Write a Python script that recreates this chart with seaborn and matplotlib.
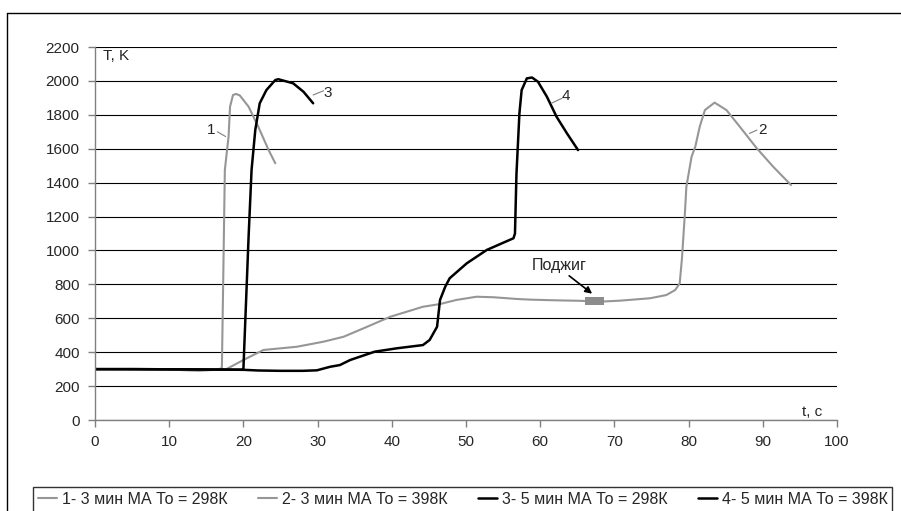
import numpy as np
import pandas as pd
import matplotlib
matplotlib.use("Agg")
import matplotlib.pyplot as plt
import matplotlib.lines as mlines
import seaborn as sns

# ---- data ----
t1 = [0, 5, 10, 14, 16.5, 17.1, 17.3, 17.5, 18.0, 18.2, 18.6, 19.0, 19.5, 20.7, 22.0, 23.4, 24.3]
T1 = [300, 299, 297, 292, 296, 307, 885, 1475, 1671, 1848, 1917, 1923, 1915, 1848, 1730, 1592, 1514]

t2 = [0, 5, 10, 14, 17.7, 20.0, 22.7, 27.2, 30.8, 33.5, 36.2, 39.8, 44.2, 46.5, 48.7, 51.4,
      53.7, 56.8, 58.6, 62.0, 65.4, 68.1, 70.8, 74.8, 77.0, 78.2, 78.8, 79.1, 79.5, 79.7,
      80.4, 80.9, 81.5, 82.2, 83.5, 85.1, 86.9, 89.2, 91.4, 93.8]
T2 = [300, 299, 297, 292, 300, 354, 413, 432, 462, 491, 541, 609, 668, 684, 708, 727,
      724, 714, 710, 706, 703, 698, 704, 718, 737, 767, 806, 950, 1219, 1376,
      1553, 1612, 1730, 1828, 1872, 1828, 1730, 1602, 1494, 1386]

t3 = [0, 5, 10, 15, 19.9, 20.0, 20.7, 21.1, 21.6, 22.2, 23.1, 24.3, 24.7, 26.7, 28.1, 29.4]
T3 = [300, 300, 299, 298, 297, 300, 1081, 1475, 1710, 1868, 1946, 2005, 2010, 1986, 1936, 1868]

t4 = [0, 5, 10, 15, 20, 22, 25, 28, 29.9, 31.7, 33, 34.4, 37.7, 40.7, 44.2, 45.1, 46.1,
      46.5, 47.2, 47.8, 50.1, 52.8, 56.4, 56.6, 56.8, 57.2, 57.5, 58.2, 58.9, 59.7, 60.9,
      62.2, 63.6, 65.1]
T4 = [300, 300, 299, 298, 296, 292, 290, 290, 293, 314, 324, 354, 403, 423, 442, 472, 550,
      708, 786, 836, 924, 1003, 1072, 1100, 1450, 1809, 1946, 2015, 2020, 1995, 1907,
      1789, 1691, 1592]

ignition_t = [66.6, 67.3, 68.0]
ignition_T = [702, 703, 700]

labels = ["1- 3 мин МА То = 298К", "2- 3 мин МА То = 398К",
          "3- 5 мин МА То = 298К", "4- 5 мин МА То = 398К"]
curve_ids = ["1", "2", "3", "4"]

x_ticks = list(range(0, 101, 10))
y_ticks = list(range(0, 2201, 200))

# ---- plotting ----
sns.set_theme(style="white")
plt.rcParams['font.family'] = ['Liberation Sans', 'DejaVu Sans']

GRAY = "#969696"
BLACK = "#000000"
colors = [GRAY, GRAY, BLACK, BLACK]
widths = [1.5, 1.5, 1.8, 1.8]

fig = plt.figure(figsize=(9.01, 5.11), dpi=100)
ax = fig.add_axes([95/901, 1-420/511, (837-95)/901, (420-47)/511])

series = [(t1, T1), (t2, T2), (t3, T3), (t4, T4)]
for (tt, TT), lab, c, w in zip(series, labels, colors, widths):
    df = pd.DataFrame({"t": tt, "T": TT})
    sns.lineplot(data=df, x="t", y="T", ax=ax, color=c, linewidth=w,
                 sort=False, estimator=None, label=lab, legend=False)

# ignition marker
dfi = pd.DataFrame({"t": ignition_t, "T": ignition_T})
sns.scatterplot(data=dfi, x="t", y="T", ax=ax, color="#8c8c8c", marker="s",
                s=40, linewidth=0, legend=False, zorder=5)

ax.set_xlim(0, 100)
ax.set_ylim(0, 2200)
ax.set_xticks(x_ticks)
ax.set_yticks(y_ticks)
ax.set_xlabel("")
ax.set_ylabel("")
ax.tick_params(axis="both", labelsize=11, length=5, width=1, color="#808080",
               direction="out", pad=6, left=True, bottom=True)
ax.yaxis.grid(True, color="#000000", linewidth=0.8)
ax.xaxis.grid(False)
ax.set_axisbelow(True)
for s in ["top", "right"]:
    ax.spines[s].set_visible(False)
for s in ["left", "bottom"]:
    ax.spines[s].set_color("#808080")
    ax.spines[s].set_linewidth(1)

# axis captions
ax.text(1.1, 2146, "T, K", fontsize=11, ha="left", va="center")
ax.text(98.0, 50, "t, c", fontsize=11, ha="right", va="center")

# curve labels with leader lines
lab_pos = [(15.7, 1710), (89.9, 1710), (31.4, 1930), (63.5, 1910)]
leaders = [((17.6, 1672), (16.5, 1700)), ((88.2, 1690), (89.2, 1710)),
           ((29.4, 1917), (30.8, 1942)), ((61.5, 1868), (62.9, 1897))]
for cid, (lx, ly), (p0, p1) in zip(curve_ids, lab_pos, leaders):
    ax.text(lx, ly, cid, fontsize=11, ha="center", va="center")
    ax.plot([p0[0], p1[0]], [p0[1], p1[1]], color="#7f7f7f", linewidth=0.8)

# ignition annotation
ax.annotate("Поджиг", xy=(67.0, 745), xytext=(58.9, 914), fontsize=11.5,
            ha="left", va="center",
            arrowprops=dict(arrowstyle="-|>", color="black", lw=1.2,
                            mutation_scale=10, shrinkA=0, shrinkB=0,
                            relpos=(0.6, 0.0)))

# legend
handles = [mlines.Line2D([], [], color=c, linewidth=w) for c, w in zip(colors, widths)]
leg = fig.legend(handles, labels, loc="upper left", ncol=4,
                 bbox_to_anchor=(33/901, 1-487/511),
                 fontsize=11.5, frameon=True, fancybox=False,
                 handlelength=1.2, handletextpad=0.3, columnspacing=1.9,
                 borderpad=0.3, borderaxespad=0.0)
leg.get_frame().set_edgecolor("black")
leg.get_frame().set_linewidth(1)

# outer chart frame
fig.add_artist(mlines.Line2D([7/901, 7/901], [0, 1-13/511], color="black", lw=1,
                             transform=fig.transFigure))
fig.add_artist(mlines.Line2D([7/901, 1], [1-13/511, 1-13/511], color="black", lw=1,
                             transform=fig.transFigure))

fig.savefig("out.png", dpi=100)
